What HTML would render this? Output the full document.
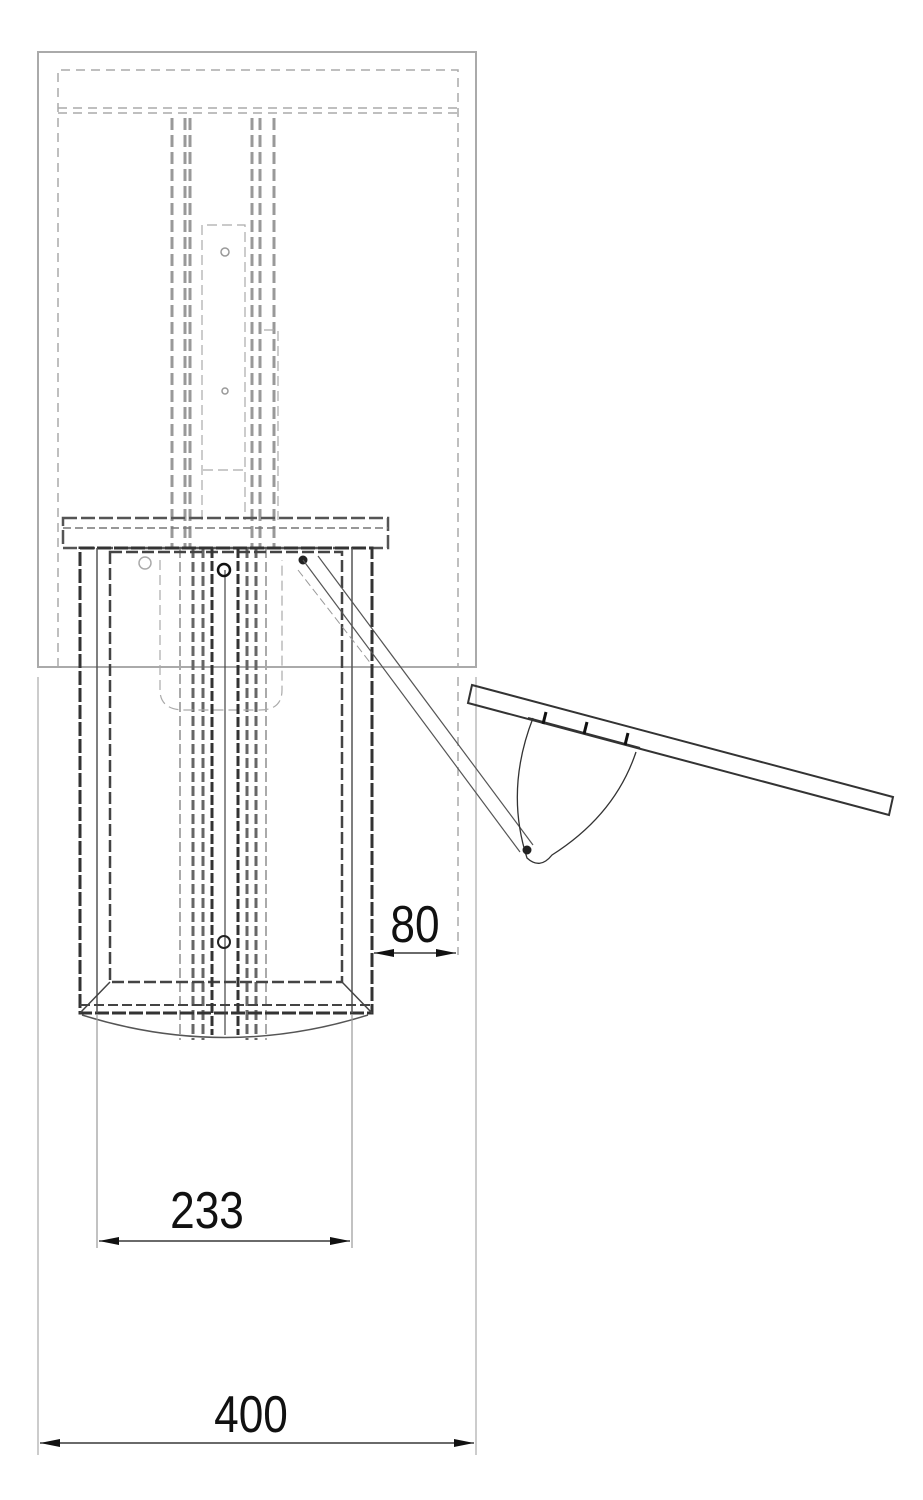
<!DOCTYPE html>
<html><head><style>html,body{margin:0;padding:0;background:#fff}svg{display:block}</style></head>
<body>
<svg width="923" height="1500" viewBox="0 0 923 1500" xmlns="http://www.w3.org/2000/svg">
<defs>
<marker id="ar" viewBox="0 0 20 8" refX="20" refY="4" markerWidth="20" markerHeight="8" orient="auto-start-reverse" markerUnits="userSpaceOnUse"><path d="M0,0 L20,4 L0,8 Z" fill="#111"/></marker>
</defs>
<g fill="none">
<rect x="38" y="52" width="438" height="615" stroke="#aaa" stroke-width="2"/>
<line x1="38" y1="677" x2="38" y2="1455" stroke="#bbb" stroke-width="1.5"/>
<line x1="476" y1="677" x2="476" y2="1455" stroke="#bbb" stroke-width="1.5"/>
<g stroke="#aaa" stroke-width="1.5" stroke-dasharray="9,6">
<path d="M58,667 V70 H458 V667"/>
<line x1="58" y1="113" x2="458" y2="113"/>
<line x1="58" y1="108" x2="458" y2="108"/>
<line x1="458" y1="677" x2="458" y2="955"/>
</g>
<g stroke="#999" stroke-width="3" stroke-dasharray="12,5">
<line x1="172" y1="118" x2="172" y2="548"/><line x1="185" y1="118" x2="185" y2="548"/>
<line x1="190" y1="118" x2="190" y2="548"/><line x1="252" y1="118" x2="252" y2="548"/>
<line x1="260" y1="118" x2="260" y2="548"/><line x1="274" y1="118" x2="274" y2="548"/>
</g>
<g stroke="#666" stroke-width="3" stroke-dasharray="10,4">
<line x1="193" y1="548" x2="193" y2="1040"/><line x1="203" y1="548" x2="203" y2="1040"/>
<line x1="247" y1="548" x2="247" y2="1040"/><line x1="256" y1="548" x2="256" y2="1040"/>
</g>
<g stroke="#aaa" stroke-width="2" stroke-dasharray="10,4">
<line x1="180" y1="548" x2="180" y2="1040"/><line x1="266" y1="548" x2="266" y2="1040"/>
</g>
<g stroke="#aaa" stroke-width="1.2" stroke-dasharray="10,5">
<path d="M202,520 V225 H245 V520"/>
<path d="M203,470 H248"/><path d="M264,330 H278 V520"/>
<path d="M160,560 V690 Q160,710 185,710 H260 Q282,710 282,690 V560"/>
</g>
<circle cx="225" cy="252" r="4" stroke="#999" stroke-width="1.5"/>
<circle cx="225" cy="391" r="3" stroke="#999" stroke-width="1.5"/>
<rect x="63" y="518" width="325" height="30" stroke="#555" stroke-width="2.5" stroke-dasharray="14,4"/>
<line x1="63" y1="528" x2="388" y2="528" stroke="#777" stroke-width="1.5" stroke-dasharray="8,4"/>
<rect x="80" y="548" width="292" height="465" stroke="#333" stroke-width="3" stroke-dasharray="14,3"/>
<line x1="97" y1="548" x2="97" y2="1013" stroke="#555" stroke-width="1.5"/>
<line x1="352" y1="548" x2="352" y2="1013" stroke="#555" stroke-width="1.5"/>
<rect x="110" y="552" width="232" height="430" stroke="#444" stroke-width="2.5" stroke-dasharray="12,4"/>
<path d="M80,1013 L110,982 M372,1013 L342,982" stroke="#444" stroke-width="1.5"/>
<path d="M80,1005 H372" stroke="#444" stroke-width="2" stroke-dasharray="10,4"/>
<path d="M82,1015 Q225,1060 368,1015" stroke="#555" stroke-width="1.5"/>
<g stroke="#333" stroke-width="3" stroke-dasharray="10,3">
<line x1="212" y1="548" x2="212" y2="1035"/><line x1="238" y1="548" x2="238" y2="1035"/>
</g>
<line x1="225" y1="570" x2="225" y2="1035" stroke="#444" stroke-width="1.2"/>
<circle cx="224" cy="570" r="6" stroke="#111" stroke-width="2.5"/>
<circle cx="224" cy="942" r="6" stroke="#222" stroke-width="2"/>
<circle cx="145" cy="563" r="6" stroke="#aaa" stroke-width="1.5"/>
<circle cx="303" cy="560" r="4" fill="#222" stroke="#222"/>
<line x1="303" y1="560" x2="520" y2="852" stroke="#555" stroke-width="1.2"/>
<line x1="318" y1="556" x2="533" y2="845" stroke="#555" stroke-width="1.2"/>
<line x1="298" y1="570" x2="372" y2="665" stroke="#999" stroke-width="1" stroke-dasharray="8,4"/>
<polygon points="472,685 893,797 889,815 468,703" stroke="#333" stroke-width="2"/>
<path d="M533,718 Q505,790 527,858 Q540,870 552,855 Q615,815 636,752" stroke="#333" stroke-width="1.3"/>
<path d="M528,718 L640,748" stroke="#333" stroke-width="2"/>
<path d="M546,712 l-3,12 M587,722 l-3,12 M628,733 l-3,12" stroke="#111" stroke-width="3"/>
<circle cx="527" cy="850" r="4" fill="#222" stroke="#222"/>
<line x1="97" y1="1015" x2="97" y2="1248" stroke="#999" stroke-width="1.2"/>
<line x1="352" y1="1015" x2="352" y2="1248" stroke="#999" stroke-width="1.2"/>
<line x1="374" y1="953" x2="415" y2="953" stroke="#111" stroke-width="1.3" marker-start="url(#ar)"/>
<line x1="415" y1="953" x2="456" y2="953" stroke="#111" stroke-width="1.3" marker-end="url(#ar)"/>
<line x1="99" y1="1241" x2="350" y2="1241" stroke="#111" stroke-width="1.3" marker-start="url(#ar)" marker-end="url(#ar)"/>
<line x1="40" y1="1443" x2="474" y2="1443" stroke="#111" stroke-width="1.3" marker-start="url(#ar)" marker-end="url(#ar)"/>
</g>
<g font-family="Liberation Sans, sans-serif" font-size="52" fill="#111" text-anchor="middle">
<text x="415" y="942" transform="translate(415,0) scale(0.85,1) translate(-415,0)">80</text>
<text x="207" y="1228" transform="translate(207,0) scale(0.85,1) translate(-207,0)">233</text>
<text x="251" y="1432" transform="translate(251,0) scale(0.85,1) translate(-251,0)">400</text>
</g>
</svg>
</body></html>
